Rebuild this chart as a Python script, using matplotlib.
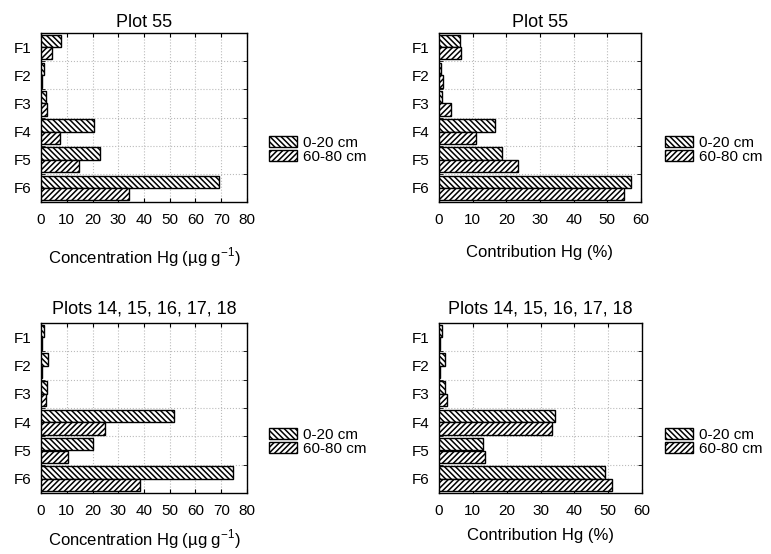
import matplotlib
matplotlib.use("Agg")
import matplotlib.pyplot as plt
import numpy as np

plt.rcParams['font.family'] = ['Liberation Sans', 'DejaVu Sans']
plt.rcParams['hatch.linewidth'] = 1.1
plt.rcParams['hatch.color'] = '#333333'

fractions = ["F1", "F2", "F3", "F4", "F5", "F6"]
series_names = ["0-20 cm", "60-80 cm"]

# Plot 55
conc55_0_20 = [7.7, 1.2, 1.8, 20.5, 23.1, 69.0]
conc55_60_80 = [4.4, 0.5, 2.5, 7.3, 14.7, 34.2]
contr55_0_20 = [6.1, 0.7, 1.0, 16.7, 18.7, 57.0]
contr55_60_80 = [6.6, 1.1, 3.7, 10.9, 23.6, 54.9]

# Plots 14-18
concP_0_20 = [1.2, 2.9, 2.5, 51.8, 20.0, 74.5]
concP_60_80 = [0.3, 0.3, 1.9, 24.8, 10.3, 38.4]
contrP_0_20 = [0.9, 1.7, 1.7, 34.2, 12.9, 49.2]
contrP_60_80 = [0.2, 0.2, 2.4, 33.4, 13.5, 51.0]

titles = ["Plot 55", "Plot 55", "Plots 14, 15, 16, 17, 18", "Plots 14, 15, 16, 17, 18"]
xlabels = ["Concentration Hg (\u00b5g g$^{\\mathregular{-1}}$)", "Contribution Hg (%)",
           "Concentration Hg (\u00b5g g$^{\\mathregular{-1}}$)", "Contribution Hg (%)"]
xmaxes = [80, 60, 80, 60]
data = [(conc55_0_20, conc55_60_80), (contr55_0_20, contr55_60_80),
        (concP_0_20, concP_60_80), (contrP_0_20, contrP_60_80)]

W, H = 771, 554
fig = plt.figure(figsize=(W / 100, H / 100), dpi=100)
fig.patch.set_facecolor('white')

# axes boxes in pixels: left, top, right, bottom
boxes = [(41, 33, 247, 202), (439, 33, 641, 202), (41, 323, 247, 493), (439, 323, 642, 493)]
legend_pos = [(269, 150), (665, 150), (269, 442), (665, 442)]
title_pads = [4.5, 4.5, 7.0, 7.0]
label_pads = [13, 13, 7, 7]

hatches = ['\\' * 6, '/' * 6]
bh = 0.44

for i, (box, title, xl, xm, (s1, s2)) in enumerate(zip(boxes, titles, xlabels, xmaxes, data)):
    l, t, r, b = box
    ax = fig.add_axes([l / W, 1 - b / H, (r - l) / W, (b - t) / H])
    y = np.arange(len(fractions))
    h1 = ax.barh(y - bh / 2, s1, height=bh, color='white', edgecolor='black',
                 hatch=hatches[0], linewidth=1.0, label=series_names[0], zorder=3)
    h2 = ax.barh(y + bh / 2, s2, height=bh, color='white', edgecolor='black',
                 hatch=hatches[1], linewidth=1.0, label=series_names[1], zorder=3)
    ax.set_ylim(len(fractions) - 0.5, -0.5)
    ax.set_xlim(0, xm)
    ax.set_yticks(y)
    ax.set_yticklabels(fractions)
    ax.set_yticks(np.arange(0.5, len(fractions) - 1, 1.0), minor=True)
    ax.set_xticks(np.arange(0, xm + 1, 10))
    ax.tick_params(axis='y', which='major', length=0, labelsize=11, pad=6.5)
    ax.tick_params(axis='y', which='minor', length=3, direction='in', left=True, right=True)
    ax.tick_params(axis='x', which='major', length=3, direction='in', top=True, bottom=True,
                   labelsize=11, pad=8)
    ax.grid(True, axis='x', which='major', color='#bbbbbb', linestyle=':', linewidth=0.8, zorder=0)
    ax.grid(True, axis='y', which='minor', color='#bbbbbb', linestyle=':', linewidth=0.8, zorder=0)
    for sp in ax.spines.values():
        sp.set_linewidth(1.0)
        sp.set_color('black')
    ax.set_title(title, fontsize=13, pad=title_pads[i])
    ax.set_xlabel(xl, fontsize=12, labelpad=label_pads[i])
    lx, ly = legend_pos[i]
    fig.legend(handles=[h1, h2], labels=series_names, loc='center left',
               bbox_to_anchor=(lx / W, 1 - ly / H), frameon=False, fontsize=11,
               handlelength=1.8, handleheight=0.72, handletextpad=0.45,
               labelspacing=0.0, borderpad=0, borderaxespad=0)

fig.savefig("out.png", dpi=100, facecolor='white')
